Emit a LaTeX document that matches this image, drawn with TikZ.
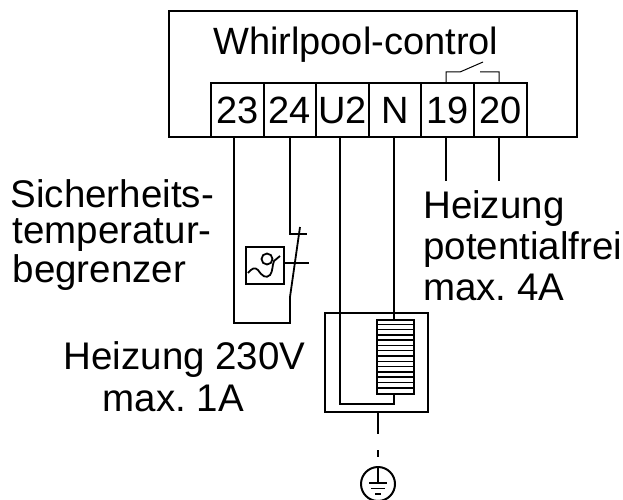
\documentclass[tikz,border=0pt]{standalone}
\usepackage{fontspec}
\setmainfont{Liberation Sans}
\tikzset{
  thick wire/.style={line width=1.8pt,line cap=rect},
  thin wire/.style={line width=1pt},
  box/.style={draw,line width=2pt,minimum height=54pt,inner sep=0pt,anchor=north west,font=\fontsize{38}{38}\selectfont},
  label/.style={inner sep=0pt,anchor=base west,font=\frenchspacing\fontsize{38.5}{38.5}\selectfont},
}
\begin{document}
\begin{tikzpicture}[x=1pt,y=-1pt]
\useasboundingbox (0,0) rectangle (623,500);
\fill[white] (0,0) rectangle (623,500);
\node[draw,line width=2pt,minimum width=408pt,minimum height=126pt,anchor=north west,inner sep=0pt] (ctrl) at (167.5,10) {};
\node[inner sep=0pt,anchor=base west,font=\fontsize{38}{38}\selectfont] (title) at (213,55) {Whirlpool-control};
\foreach \n/\t/\x/\w in {t23/23/210/53,t24/24/263/52,tU/U2/315/53,tN/N/368/52,t19/19/420/53,t20/20/473/53}{
  \node[box,minimum width=\w pt] (\n) at (\x,82) {\t};
}
% relay contact
\coordinate (ra) at (446,82); \coordinate (rb) at (446,72); \coordinate (rc) at (460,72); \coordinate (rd) at (483,62);
\coordinate (re) at (480,72); \coordinate (rf) at (499,72); \coordinate (rg) at (499,82);
\draw[thin wire] (ra) -- (rb) -- (rc) -- (rd) (re) -- (rf) -- (rg);
% short leads
\coordinate (l19) at (446,181); \coordinate (l20) at (499,181);
\draw[thick wire,line cap=butt] (446,136) -- (l19);
\draw[thick wire,line cap=butt] (499,136) -- (l20);
% temperature limiter
\node[draw,line width=2pt,minimum width=38pt,minimum height=37pt,inner sep=0pt,anchor=north west] (stb) at (245,246) {};
\coordinate (c1) at (234,323); \coordinate (c2) at (290,323);
\coordinate (s1) at (290,297); \coordinate (s2) at (300,227);
\coordinate (s3) at (290,234); \coordinate (s4) at (307,234);
\coordinate (m) at (309,263);
\draw[thick wire,line cap=butt] (234,136) -- (c1) -- (c2) -- (s1) -- (s2);
\draw[thick wire,line cap=butt] (290,136) -- (s3) -- (s4);
\draw[thick wire,line cap=butt] (stb.east |- m) -- (m);
\draw[line width=1.8pt] (248,273) .. controls (252,268) and (255,267) .. (258,270) .. controls (262,276) and (266,279) .. (270,275) .. controls (273,271) and (272,266) .. (274,261) -- (280,256);
\draw[line width=1.8pt] (267,259) circle (5.5pt);
% transformer
\node[draw,line width=2pt,minimum width=103pt,minimum height=99pt,inner sep=0pt,anchor=north west] (trafo) at (324,312) {};
\node[draw,line width=2pt,minimum width=37pt,minimum height=74pt,inner sep=0pt,anchor=north west] (coil) at (376,319) {};
\foreach \i in {1,...,13}{\draw[line width=1.5pt] (376,{319+\i*5.29}) -- (413,{319+\i*5.29});}
\coordinate (u1) at (340,404); \coordinate (u2) at (394,404);
\draw[thick wire,line cap=butt] (340,136) -- (u1) -- (u2) -- (394,393);
\draw[thick wire,line cap=butt] (394,136) -- (394,319);
% earth
\node[draw,circle,line width=2pt,minimum size=34pt,inner sep=0pt] (earth) at (378,484) {};
\coordinate (g1) at (378,434); \coordinate (g2) at (378,450); \coordinate (g3) at (378,457);
\draw[line width=1.2pt] (378,411) -- (g1) (g2) -- (g3);
\draw[line width=1.2pt] (earth.north) -- (378,483);
\draw[line width=1.5pt] (369,483) -- (387,483) (371,488.5) -- (385,488.5);
\draw[line width=2pt] (375,494) -- (381,494);
% labels
\node[label] (a1) at (10.5,207) {Sicherheits-};
\node[label] (a2) at (12.5,243) {temperatur-};
\node[label] (a3) at (12.5,282) {begrenzer};
\node[label] (b1) at (423,218) {Heizung};
\node[label] (b2) at (423,259) {potentialfrei};
\node[label] (b3) at (423,300.5) {max. 4A};
\node[label] (c1t) at (63.5,369) {Heizung 230V};
\node[label] (c2t) at (102.5,411) {max. 1A};
\end{tikzpicture}
\end{document}
